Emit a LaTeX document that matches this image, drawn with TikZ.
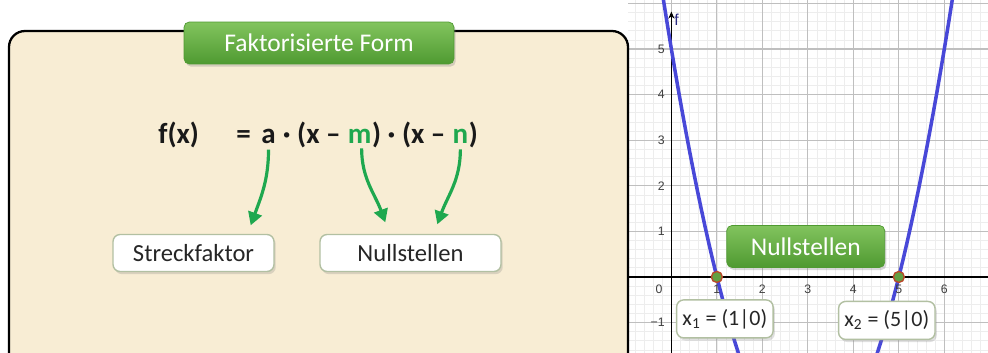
\documentclass[tikz,border=0pt]{standalone}
\usepackage{fontspec}
\setmainfont{Carlito}
\newfontfamily\achsenfont{Liberation Sans}
\usetikzlibrary{positioning, arrows.meta, shadows}

\definecolor{pergament}{HTML}{F8EDD4}
\definecolor{gruen}{HTML}{1FA84F}
\definecolor{tabhell}{HTML}{82C45E}
\definecolor{tabdunkel}{HTML}{4F9A31}
\definecolor{graphblau}{HTML}{4848D8}
\definecolor{rahmen}{HTML}{B2C0A2}
\definecolor{punktgruen}{HTML}{62A043}
\definecolor{punktrot}{HTML}{B8482A}

\begin{document}
\begin{tikzpicture}[
    x=0.02cm, y=-0.02cm,
    panel/.style={draw=black, line width=1.3pt, fill=pergament, rounded corners=0.32cm},
    tab/.style={rectangle, rounded corners=3pt, top color=tabhell, bottom color=tabdunkel,
                draw=tabdunkel, text=white, font=\fontsize{14.5}{16}\selectfont,
                minimum height=0.84cm, drop shadow={opacity=0.3, shadow xshift=1pt, shadow yshift=-1.5pt}},
    kasten/.style={draw=rahmen, fill=white, rounded corners=4pt, line width=0.8pt,
                   font=\fontsize{14}{16}\selectfont, text=black!85, minimum height=0.74cm,
                   drop shadow={opacity=0.25, shadow xshift=1pt, shadow yshift=-1.5pt}},
    formel/.style={font=\bfseries\fontsize{16.5}{18}\selectfont, inner sep=0pt, text=black!90},
    pfeil/.style={draw=gruen, line width=1.8pt, -{Triangle[length=0.26cm, width=0.28cm]}},
    minorgrid/.style={draw=black!7, line width=0.4pt},
    majorgrid/.style={draw=black!25, line width=0.6pt},
    achse/.style={draw=black, line width=0.9pt},
    tick/.style={font=\achsenfont\fontsize{7}{8}\selectfont, text=black!75, inner sep=1pt},
    kurve/.style={draw=graphblau, line width=2pt},
    punkt/.style={circle, fill=punktgruen, draw=punktrot, line width=0.8pt,
                  minimum size=0.22cm, inner sep=0pt}
]
    \useasboundingbox (0,0) rectangle (988,352);
    \fill[white] (0,0) rectangle (988,352);

    % --- Graph ---
    \begin{scope}[shift={(13.43cm,-5.54cm)}, x=0.91cm, y=0.912cm]
        \begin{scope}
            \clip (-0.95,-1.7) rectangle (7,6.2);
            \draw[minorgrid, step=0.2] (-1,-2) grid (7,7);
            \draw[majorgrid, step=1] (-1,-2) grid (7,7);
            \draw[achse] (-0.95,0) -- (7,0);
            \draw[achse, -{Stealth[length=4pt, width=3.5pt]}] (0,-1.7) -- (0,5.82);
            \draw[kurve] plot[domain=-0.25:6.25, samples=80] (\x, {(\x-1)*(\x-5)});
        \end{scope}
        \node[tick, font=\achsenfont\fontsize{9}{10}\selectfont, text=graphblau!60!black, anchor=west]
            (fname) at (0.02,5.64) {f};
        \node[tick] (xl0) at (-0.27,-0.27) {0};
        \foreach \i in {1,...,6}
            \node[tick] (xl\i) at (\i,-0.27) {\i};
        \foreach \j in {1,...,5}
            \node[tick, anchor=east] (yl\j) at (-0.1,\j) {\j};
        \node[tick, anchor=east] (ylm) at (-0.1,-1) {\textminus1};

        \node[punkt] (p1) at (1,0) {};
        \node[punkt] (p2) at (5,0) {};

        \node[tab, minimum width=3.16cm] (nulltab) at (2.954,0.669) {Nullstellen};
        \node[kasten, font=\fontsize{12.5}{14}\selectfont, minimum width=1.92cm, minimum height=0.76cm]
            (x1) at (1.176,-0.92) {x\textsubscript{1} = (1|0)};
        \node[kasten, font=\fontsize{12.5}{14}\selectfont, minimum width=1.92cm, minimum height=0.76cm]
            (x2) at (4.736,-0.954) {x\textsubscript{2} = (5|0)};
    \end{scope}

    % --- Panel ---
    \draw[panel] (9,31) rectangle (628,430);
    \node[tab, minimum width=5.4cm] (titel) at (319,43) {Faktorisierte Form};

    % --- Formel ---
    \node[formel, anchor=base west] (fx) at (158,143) {f(x)};
    \node[formel, anchor=base west] (gleich) at (236,143) {=};
    \node[formel, anchor=base west] (fa) at (261,143) {a};
    \node[formel, base right=0pt of fa] (k1) {\ ·\ (x\ –\ \null};
    \node[formel, text=gruen, base right=0pt of k1] (fm) {m};
    \node[formel, base right=0pt of fm] (k2) {)\ ·\ (x\ –\ \null};
    \node[formel, text=gruen, base right=0pt of k2] (fn) {n};
    \node[formel, base right=0pt of fn] (k3) {)};

    % --- Kaesten ---
    \node[kasten, minimum width=3.22cm] (streck) at (193.5,253) {Streckfaktor};
    \node[kasten, minimum width=3.62cm] (null) at (410.5,253) {Nullstellen};

    % --- Pfeile ---
    \draw[pfeil] ([yshift=-0.12cm]fa.south) to[out=-90, in=70]
        ([xshift=-0.48cm, yshift=0.17cm]streck.north east);
    \draw[pfeil] ([xshift=0.04cm, yshift=-0.1cm]fm.south) to[out=-90, in=110]
        ([xshift=1.32cm, yshift=0.23cm]null.north west);
    \draw[pfeil] ([yshift=-0.12cm]fn.south) to[out=-90, in=70]
        ([xshift=2.36cm, yshift=0.19cm]null.north west);
\end{tikzpicture}
\end{document}
